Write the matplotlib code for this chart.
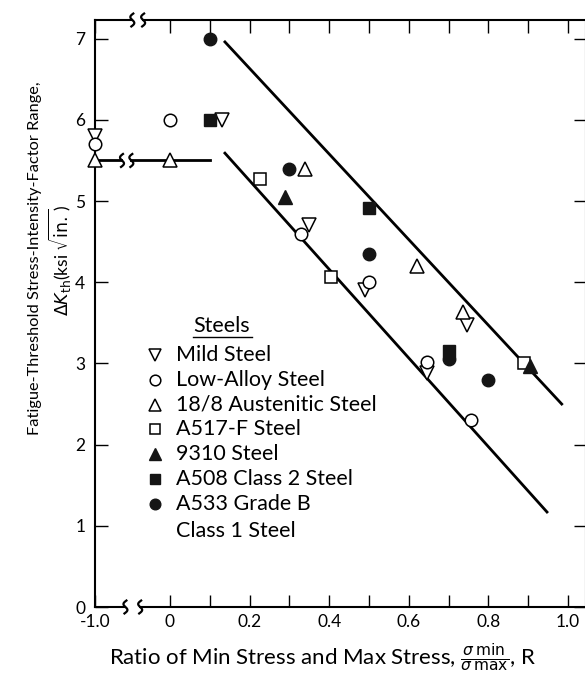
import numpy as np
import matplotlib
matplotlib.use('Agg')
import matplotlib.pyplot as plt
from matplotlib.patches import Rectangle
import matplotlib.transforms as mtransforms

plt.rcParams['font.family'] = ['Lato', 'DejaVu Sans']
plt.rcParams['mathtext.fontset'] = 'dejavusans'

# ---- data: stress ratio R vs threshold dK (ksi sqrt(in.)) ----
mild_r = [-1.0, 0.13, 0.35, 0.49, 0.645, 0.745]
mild_k = [5.8, 6.0, 4.7, 3.9, 2.88, 3.47]

lowalloy_r = [-1.0, 0.0, 0.33, 0.5, 0.645, 0.755]
lowalloy_k = [5.7, 6.0, 4.6, 4.0, 3.02, 2.3]

aust_r = [-1.0, 0.0, 0.34, 0.62, 0.735]
aust_k = [5.5, 5.5, 5.4, 4.2, 3.63]

a517_r = [0.225, 0.405, 0.89]
a517_k = [5.27, 4.06, 3.0]

s9310_r = [0.29, 0.905]
s9310_k = [5.05, 2.97]

a508_r = [0.1, 0.5, 0.7]
a508_k = [6.0, 4.92, 3.15]

a533_r = [0.1, 0.3, 0.5, 0.7, 0.8]
a533_k = [7.0, 5.4, 4.35, 3.05, 2.8]

# scatter band lines
upper_r = [0.138, 0.984]
upper_k = [6.96, 2.50]
lower_r = [0.138, 0.947]
lower_k = [5.59, 1.17]
plateau_r = [-1.0, 0.1]
plateau_k = [5.5, 5.5]

xtick_vals = [-1.0, 0.0, 0.1, 0.2, 0.3, 0.4, 0.5, 0.6, 0.7, 0.8, 0.9, 1.0]
xtick_labels = ['-1.0', '0', '', '0.2', '', '0.4', '', '0.6', '', '0.8', '', '1.0']
ytick_vals = [0, 1, 2, 3, 4, 5, 6, 7]

# compressed (broken) axis between -1.0 and 0
K = 0.0884 / 0.9


def fwd(r):
    r = np.asarray(r, dtype=float)
    return np.where(r < -0.1, -0.1 + (r + 0.1) * K, r)


def inv(p):
    p = np.asarray(p, dtype=float)
    return np.where(p < -0.1, -0.1 + (p + 0.1) / K, p)


fig = plt.figure(figsize=(5.85, 6.77), dpi=100)
ax = fig.add_axes([95 / 585, (677 - 607) / 677, 491 / 585, 587 / 677])
ax.set_xscale('function', functions=(fwd, inv))
ax.set_xlim(-1.0, 1.045)
ax.set_ylim(0, 7.23)

# band lines
ax.plot(upper_r, upper_k, color='black', lw=2.0, zorder=2)
ax.plot(lower_r, lower_k, color='black', lw=2.0, zorder=2)
ax.plot(plateau_r, plateau_k, color='black', lw=2.0, zorder=2)

open_kw = dict(linestyle='none', markerfacecolor='white', markeredgecolor='black',
               markeredgewidth=1.1, zorder=4)
fill_kw = dict(linestyle='none', markerfacecolor='#151515', markeredgecolor='#151515',
               markeredgewidth=1.0, zorder=4)

series = [
    (mild_r, mild_k, 'v', 10, open_kw, 'Mild Steel'),
    (lowalloy_r, lowalloy_k, 'o', 9, open_kw, 'Low-Alloy Steel'),
    (aust_r, aust_k, '^', 10, open_kw, '18/8 Austenitic Steel'),
    (a517_r, a517_k, 's', 8.5, open_kw, 'A517-F Steel'),
    (s9310_r, s9310_k, '^', 10, fill_kw, '9310 Steel'),
    (a508_r, a508_k, 's', 8.5, fill_kw, 'A508 Class 2 Steel'),
    (a533_r, a533_k, 'o', 9, fill_kw, 'A533 Grade B\nClass 1 Steel'),
]
for r, k, m, ms, kw, lab in series:
    ax.plot(r, k, marker=m, markersize=ms, clip_on=False, **kw)

# ---- axes styling ----
for s in ax.spines.values():
    s.set_linewidth(1.5)
ax.set_xticks(xtick_vals)
ax.set_xticklabels(xtick_labels)
ax.xaxis.set_minor_locator(matplotlib.ticker.NullLocator())
ax.set_yticks(ytick_vals)
ax.set_yticklabels([str(v) for v in ytick_vals])
ax.tick_params(direction='in', length=9, width=1.0, labelsize=12.5,
               top=True, right=True)
ax.tick_params(axis='x', pad=5)
ax.tick_params(axis='y', pad=7)

# ---- axis breaks ----
def squiggle(x0, y0, h, a, trans):
    t = np.linspace(-1, 1, 40)
    xs = x0 + a * np.sin(np.pi * t) * -1 + a * 0.4 * t
    ys = y0 + t * h / 2
    ax.plot(xs, ys, color='black', lw=1.6, transform=trans, clip_on=False, zorder=6)


blend = mtransforms.blended_transform_factory(ax.transAxes, ax.transData)
# bottom spine
ax.add_patch(Rectangle((0.064, -0.01), 0.026, 0.02, transform=ax.transAxes,
                       facecolor='white', edgecolor='none', clip_on=False, zorder=5))
squiggle(0.062, 0.0, 0.022, 0.005, ax.transAxes)
squiggle(0.092, 0.0, 0.022, 0.005, ax.transAxes)
# top spine
ax.add_patch(Rectangle((0.078, 0.99), 0.018, 0.02, transform=ax.transAxes,
                       facecolor='white', edgecolor='none', clip_on=False, zorder=5))
squiggle(0.076, 1.0, 0.022, 0.005, ax.transAxes)
squiggle(0.098, 1.0, 0.022, 0.005, ax.transAxes)
# plateau line
ax.add_patch(Rectangle((0.057, 5.4), 0.015, 0.2, transform=blend,
                       facecolor='white', edgecolor='none', zorder=3))
squiggle(0.055, 5.5, 0.16, 0.005, blend)
squiggle(0.074, 5.5, 0.16, 0.005, blend)

# ---- hand-placed legend ----
lx_m, lx_t = 0.122, 0.165
ly0, dy = 0.4293, 0.0423
ax.text(0.2587, 0.4787, 'Steels', transform=ax.transAxes, ha='center', va='center',
        fontsize=15.5)
ax.plot([0.1996, 0.3198], [0.460, 0.460], color='black', lw=1.0, transform=ax.transAxes)
for i, (r, k, m, ms, kw, lab) in enumerate(series):
    y = ly0 - i * dy
    ax.plot([lx_m], [y], marker=m, markersize=ms * 0.85, transform=ax.transAxes,
            clip_on=False, **kw)
    if '\n' in lab:
        first, second = lab.split('\n')
        ax.text(lx_t, y, first, transform=ax.transAxes, ha='left', va='center', fontsize=15.5)
        ax.text(lx_t, y - 1.1 * dy, second, transform=ax.transAxes, ha='left', va='center',
                fontsize=15.5)
    else:
        ax.text(lx_t, y, lab, transform=ax.transAxes, ha='left', va='center', fontsize=15.5)

# ---- axis labels ----
fig.text(35 / 585, (677 - 258) / 677, 'Fatigue-Threshold Stress-Intensity-Factor Range,',
         rotation=90, ha='center', va='center', fontsize=11.8)
fig.text(60 / 585, (677 - 260) / 677, r'$\Delta K_{\mathrm{th}}$(ksi $\sqrt{\mathrm{in.}}$)',
         rotation=90, ha='center', va='center', fontsize=12.5)
fig.text(323 / 585, (677 - 658) / 677,
         r'Ratio of Min Stress and Max Stress, $\frac{\sigma\,\mathrm{min}}{\sigma\,\mathrm{max}}$, R',
         ha='center', va='center', fontsize=16)

fig.savefig('out.png', dpi=100)
